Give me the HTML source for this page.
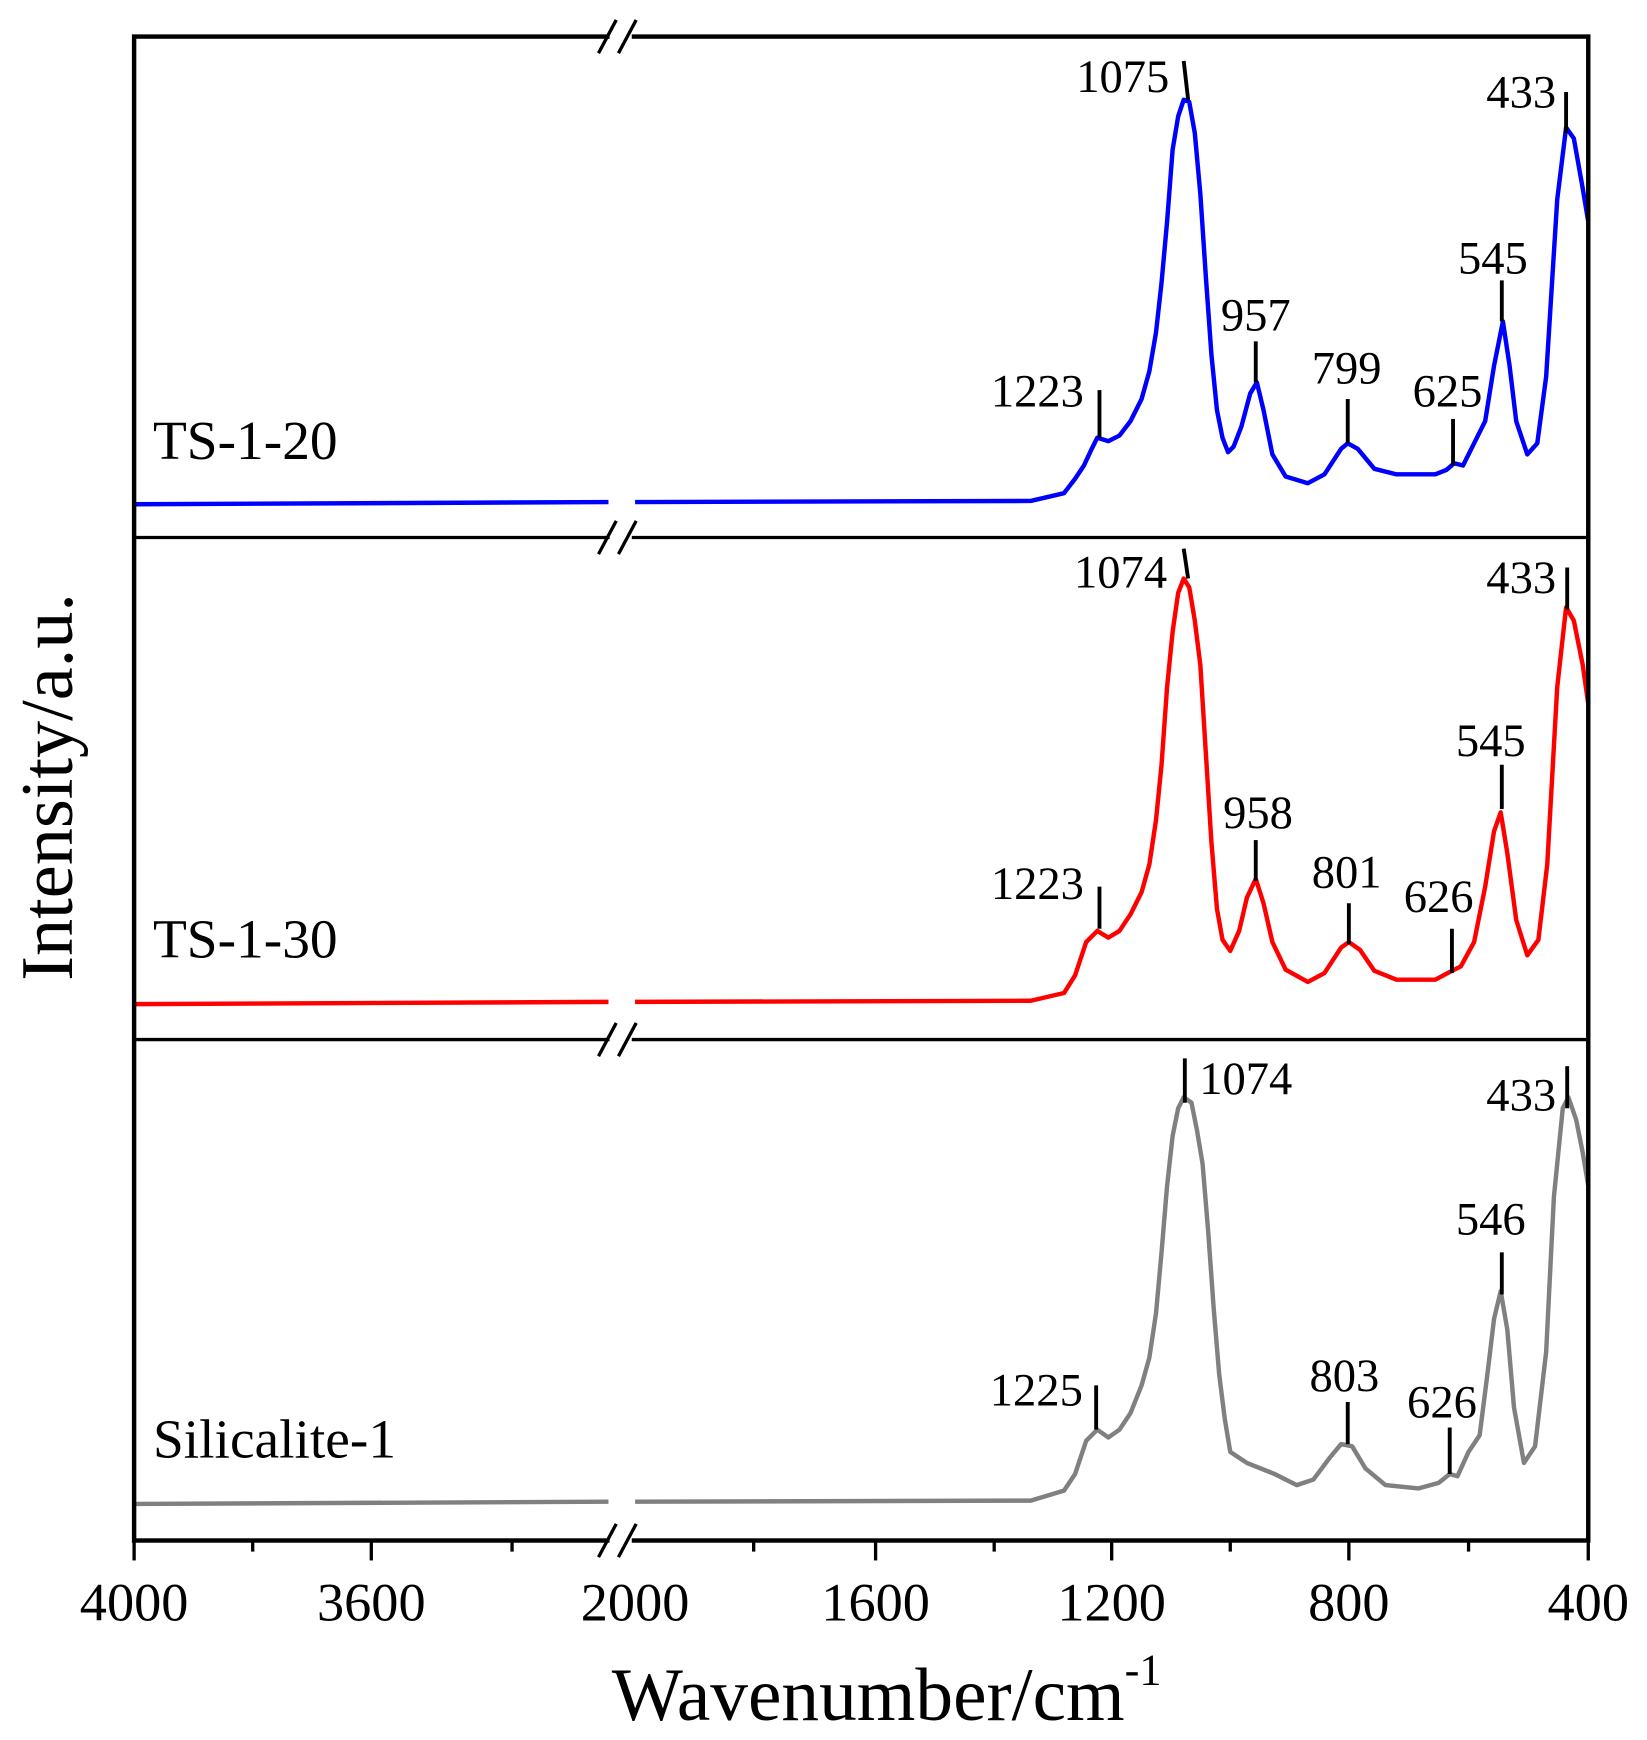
<!DOCTYPE html>
<html><head><meta charset="utf-8"><style>
html,body{margin:0;padding:0;background:#fff;}
svg{display:block;}
text{font-family:"Liberation Serif",serif;fill:#000;}
</style></head><body>
<svg width="1647" height="1740" viewBox="0 0 1486 1570" preserveAspectRatio="none" xmlns="http://www.w3.org/2000/svg">
<g fill="none" stroke-linejoin="round" stroke-width="4">
<polyline stroke="#0000ff" points="121,455 549,453"/>
<polyline stroke="#0000ff" points="573,453 930,452 960,445 970,432 978,420 985,405 990,395 1000,398 1010,393 1020,380 1030,360 1037,335 1043,300 1048,255 1053,200 1058,135 1063,105 1068,90 1073,92 1078,120 1083,175 1088,250 1093,320 1098,370 1103,395 1108,408 1113,403 1120,385 1128,355 1134,345 1140,370 1148,410 1160,430 1180,436 1195,428 1210,405 1216,400 1225,405 1240,423 1260,428 1295,428 1305,424 1312,418 1320,420 1330,400 1340,380 1348,330 1356,290 1362,330 1368,380 1378,410 1387,400 1395,340 1405,180 1413,115 1420,125 1428,170 1433,200"/>
<polyline stroke="#ff0000" points="121,906 549,904"/>
<polyline stroke="#ff0000" points="573,904 930,903 960,896 970,880 980,850 990,840 1000,846 1010,840 1020,825 1030,805 1037,780 1043,740 1048,690 1053,620 1058,570 1063,535 1068,522 1073,530 1078,560 1083,600 1088,680 1093,760 1098,820 1103,848 1110,858 1118,840 1125,810 1133,793 1140,815 1148,850 1160,875 1180,886 1195,878 1210,855 1217,850 1227,857 1240,876 1260,884 1295,884 1310,876 1318,872 1330,850 1340,800 1348,750 1354,733 1360,770 1368,830 1378,862 1388,848 1396,780 1405,620 1413,548 1420,560 1428,600 1433,635"/>
<polyline stroke="#808080" points="121,1357 549,1355"/>
<polyline stroke="#808080" points="573,1355 930,1354 960,1345 970,1330 980,1300 990,1290 1000,1297 1010,1290 1020,1275 1030,1250 1037,1225 1043,1185 1048,1130 1053,1070 1058,1025 1063,1000 1068,990 1075,995 1080,1020 1085,1050 1090,1110 1095,1180 1100,1240 1105,1280 1110,1310 1125,1320 1150,1330 1170,1340 1185,1335 1200,1315 1210,1303 1220,1305 1232,1325 1250,1340 1280,1343 1298,1338 1308,1330 1315,1332 1325,1310 1335,1295 1342,1240 1348,1190 1354,1165 1360,1200 1366,1270 1375,1320 1385,1305 1395,1220 1402,1080 1410,1000 1415,990 1422,1010 1428,1040 1433,1070"/>
</g>
<g stroke="#000" fill="none">
<rect x="121" y="33" width="1312" height="1357" stroke-width="4"/>
<line x1="121" y1="485" x2="1433" y2="485" stroke-width="3"/>
<line x1="121" y1="938" x2="1433" y2="938" stroke-width="3"/>
</g>
<g fill="#fff"><rect x="550" y="25" width="20" height="16"/><rect x="550" y="478" width="20" height="14"/><rect x="550" y="931" width="20" height="14"/><rect x="550" y="1382" width="20" height="16"/></g>
<g stroke="#000" stroke-width="3">
<line x1="540" y1="48" x2="556" y2="18"/><line x1="558" y1="48" x2="574" y2="18"/>
<line x1="540" y1="500" x2="556" y2="470"/><line x1="558" y1="500" x2="574" y2="470"/>
<line x1="540" y1="953" x2="556" y2="923"/><line x1="558" y1="953" x2="574" y2="923"/>
<line x1="540" y1="1405" x2="556" y2="1375"/><line x1="558" y1="1405" x2="574" y2="1375"/>
</g>
<g stroke="#000" stroke-width="3">
<line x1="121" y1="1390" x2="121" y2="1408"/><line x1="228" y1="1390" x2="228" y2="1400"/>
<line x1="335" y1="1390" x2="335" y2="1408"/><line x1="462" y1="1390" x2="462" y2="1400"/>
<line x1="680" y1="1390" x2="680" y2="1400"/><line x1="790" y1="1390" x2="790" y2="1408"/>
<line x1="897" y1="1390" x2="897" y2="1400"/><line x1="1003" y1="1390" x2="1003" y2="1408"/>
<line x1="1110" y1="1390" x2="1110" y2="1400"/><line x1="1217" y1="1390" x2="1217" y2="1408"/>
<line x1="1325" y1="1390" x2="1325" y2="1400"/><line x1="1433" y1="1390" x2="1433" y2="1408"/>
</g>
<g font-size="49" text-anchor="middle">
<text x="121" y="1462">4000</text><text x="335" y="1462">3600</text><text x="573" y="1462">2000</text>
<text x="790" y="1462">1600</text><text x="1003" y="1462">1200</text><text x="1217" y="1462">800</text><text x="1433" y="1462">400</text>
</g>
<text x="800" y="1552" font-size="68" text-anchor="middle">Wavenumber/cm<tspan font-size="40" dy="-32">-1</tspan></text>
<text transform="translate(65,710) rotate(-90)" font-size="67" text-anchor="middle">Intensity/a.u.</text>
<g font-size="50"><text x="138" y="414">TS-1-20</text><text x="138" y="864">TS-1-30</text><text x="138" y="1315">Silicalite-1</text></g>
<g stroke="#000" stroke-width="3.5">
<line x1="992" y1="352" x2="992" y2="395"/><line x1="1068" y1="55" x2="1072" y2="90"/><line x1="1133" y1="308" x2="1133" y2="345"/><line x1="1216" y1="360" x2="1216" y2="400"/><line x1="1311" y1="378" x2="1311" y2="420"/><line x1="1355" y1="253" x2="1355" y2="290"/><line x1="1413" y1="83" x2="1413" y2="120"/>
<line x1="992" y1="800" x2="992" y2="838"/><line x1="1068" y1="495" x2="1072" y2="522"/><line x1="1133" y1="758" x2="1133" y2="795"/><line x1="1217" y1="815" x2="1217" y2="852"/><line x1="1310" y1="838" x2="1310" y2="878"/><line x1="1355" y1="690" x2="1355" y2="730"/><line x1="1414" y1="512" x2="1414" y2="550"/>
<line x1="989" y1="1250" x2="989" y2="1290"/><line x1="1069" y1="955" x2="1069" y2="995"/><line x1="1216" y1="1265" x2="1216" y2="1303"/><line x1="1308" y1="1288" x2="1308" y2="1330"/><line x1="1355" y1="1130" x2="1355" y2="1168"/><line x1="1414" y1="962" x2="1414" y2="1000"/>
</g>
<g font-size="42">
<text x="978" y="367" text-anchor="end">1223</text><text x="1055" y="83" text-anchor="end">1075</text><text x="1133" y="298" text-anchor="middle">957</text><text x="1215" y="346" text-anchor="middle">799</text><text x="1306" y="367" text-anchor="middle">625</text><text x="1347" y="247" text-anchor="middle">545</text><text x="1404" y="97" text-anchor="end">433</text>
<text x="978" y="811" text-anchor="end">1223</text><text x="1053" y="530" text-anchor="end">1074</text><text x="1135" y="747" text-anchor="middle">958</text><text x="1215" y="801" text-anchor="middle">801</text><text x="1298" y="823" text-anchor="middle">626</text><text x="1345" y="682" text-anchor="middle">545</text><text x="1404" y="535" text-anchor="end">433</text>
<text x="977" y="1268" text-anchor="end">1225</text><text x="1082" y="987" text-anchor="start">1074</text><text x="1213" y="1255" text-anchor="middle">803</text><text x="1301" y="1279" text-anchor="middle">626</text><text x="1345" y="1114" text-anchor="middle">546</text><text x="1404" y="1002" text-anchor="end">433</text>
</g>
</svg>
</body></html>
